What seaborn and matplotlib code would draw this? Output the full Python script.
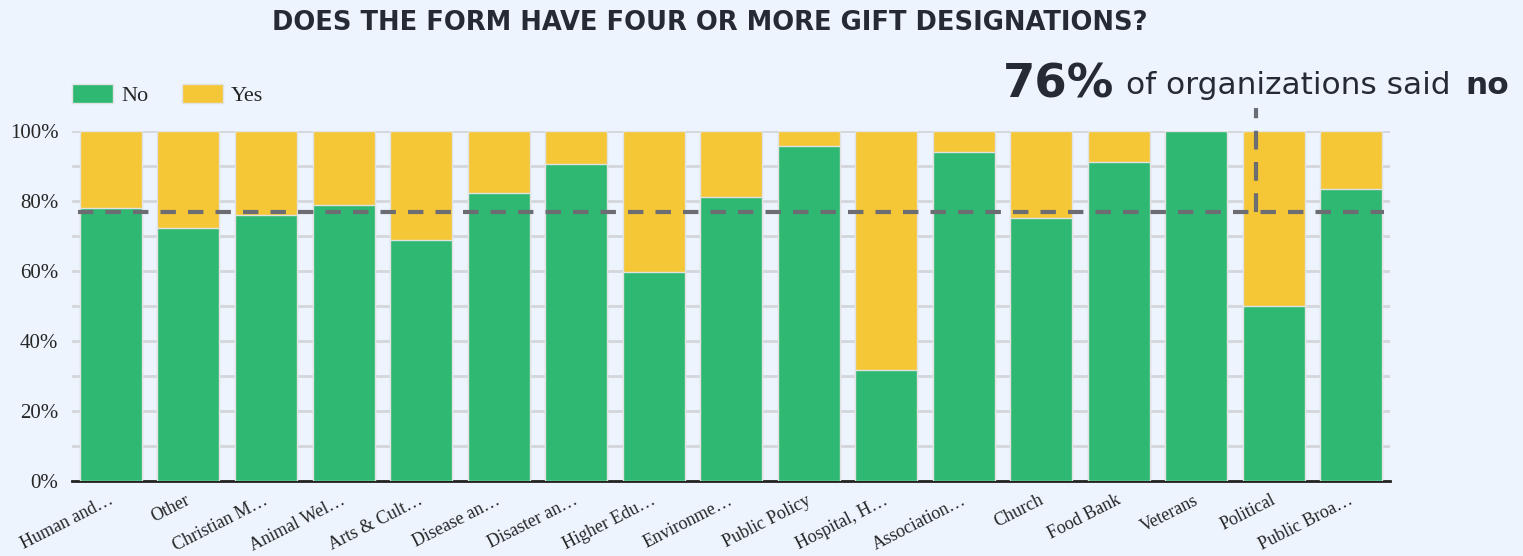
import numpy as np
import pandas as pd
import seaborn as sns
import matplotlib.pyplot as plt
import matplotlib.transforms as mtransforms
from matplotlib.patches import Patch

categories = ["Human and…", "Other", "Christian M…", "Animal Wel…", "Arts & Cult…",
              "Disease an…", "Disaster an…", "Higher Edu…", "Environme…", "Public Policy",
              "Hospital, H…", "Association…", "Church", "Food Bank", "Veterans",
              "Political", "Public Broa…"]
no_pct = [77.8, 72.3, 75.9, 78.8, 68.7, 82.1, 90.6, 59.6, 81.1, 95.6,
          31.7, 93.8, 75.1, 91.1, 100.0, 50.0, 83.3]
yes_pct = [22.2, 27.7, 24.1, 21.2, 31.3, 17.9, 9.4, 40.4, 18.9, 4.4,
           68.3, 6.2, 24.9, 8.9, 0.0, 50.0, 16.7]
yticks = [0, 20, 40, 60, 80, 100]

GREEN = "#2eb872"
YELLOW = "#f5c636"
BG = "#edf4fe"
DARK = "#262b33"
SANS = ["DejaVu Sans"]

sns.set_style("white")
plt.rcParams["font.family"] = ["Liberation Serif", "DejaVu Serif"]

df = pd.DataFrame({"cat": categories, "no": no_pct, "yes": yes_pct})
df["total"] = df["no"] + df["yes"]

fig = plt.figure(figsize=(15.23, 5.56), dpi=100, facecolor=BG)
ax = fig.add_axes([0.0474, 0.1354, 0.8653, 0.6295])
ax.set_facecolor(BG)

for y in range(10, 101, 10):
    ax.axhline(y, color="#d3d6db", lw=2, zorder=0)

sns.barplot(data=df, x="cat", y="total", color=YELLOW, width=0.8, saturation=1,
            edgecolor="#e2e2e2", linewidth=1, ax=ax, zorder=2)
sns.barplot(data=df, x="cat", y="no", color=GREEN, width=0.8, saturation=1,
            edgecolor="#e2e2e2", linewidth=1, ax=ax, zorder=3)

# average line and the pointer up to the callout
avg = np.mean(no_pct)
ax.hlines(avg, -0.42, len(categories) - 0.58, color="#6b6d72", lw=3,
          ls=(0, (3.7, 2.9)), zorder=4)
ax.plot([14.77, 14.77], [avg, 106.5], color="#6b6d72", lw=3, ls=(0, (4.5, 3)),
        zorder=4, clip_on=False)

ax.set_xlim(-0.5, len(categories) - 0.5)
ax.set_ylim(0, 100)
ax.set_yticks(yticks)
ax.set_yticklabels([f"{t}%" for t in yticks], fontsize=15)
ax.set_xlabel("")
ax.set_ylabel("")
ax.tick_params(axis="y", length=0, pad=10)
ax.tick_params(axis="x", length=0, pad=8)
shift = mtransforms.ScaledTranslation(-3 / 100, 0, fig.dpi_scale_trans)
for lbl in ax.get_xticklabels():
    lbl.set_rotation(27)
    lbl.set_ha("right")
    lbl.set_rotation_mode("anchor")
    lbl.set_fontsize(13)
    lbl.set_transform(lbl.get_transform() + shift)

for s in ["top", "right", "left"]:
    ax.spines[s].set_visible(False)
ax.spines["bottom"].set_color("#222222")
ax.spines["bottom"].set_linewidth(2)

handles = [Patch(facecolor=GREEN, edgecolor="#e2e2e2"), Patch(facecolor=YELLOW, edgecolor="#e2e2e2")]
fig.legend(handles, ["No", "Yes"], loc="center left",
           bbox_to_anchor=(72 / 1523, 1 - 95 / 556), ncol=2, frameon=False,
           fontsize=16, handlelength=1.85, handleheight=0.9, columnspacing=1.5,
           borderpad=0, borderaxespad=0, handletextpad=0.36)

fig.text(710 / 1523, 0.958, "DOES THE FORM HAVE FOUR OR MORE GIFT DESIGNATIONS?",
         ha="center", va="center", fontsize=18.5, fontweight="bold", color=DARK,
         family=SANS)

# callout text, pieces placed one after another
renderer = fig.canvas.get_renderer()
t1 = fig.text(1003 / 1523, 1 - 97 / 556, "76%", ha="left", va="baseline", fontsize=33.5,
              fontweight="heavy", color=DARK, family=SANS)
x1 = t1.get_window_extent(renderer).x1 / fig.bbox.width
base = 1 - 94 / 556
t2 = fig.text(x1 + 12 / 1523, base, "of organizations said", ha="left", va="baseline",
              fontsize=22.5, color=DARK, family=SANS)
x2 = t2.get_window_extent(renderer).x1 / fig.bbox.width
fig.text(x2 + 14 / 1523, base, "no", ha="left", va="baseline", fontsize=22.5,
         fontweight="bold", color=DARK, family=SANS)

fig.savefig("out.png", dpi=100, facecolor=BG)
